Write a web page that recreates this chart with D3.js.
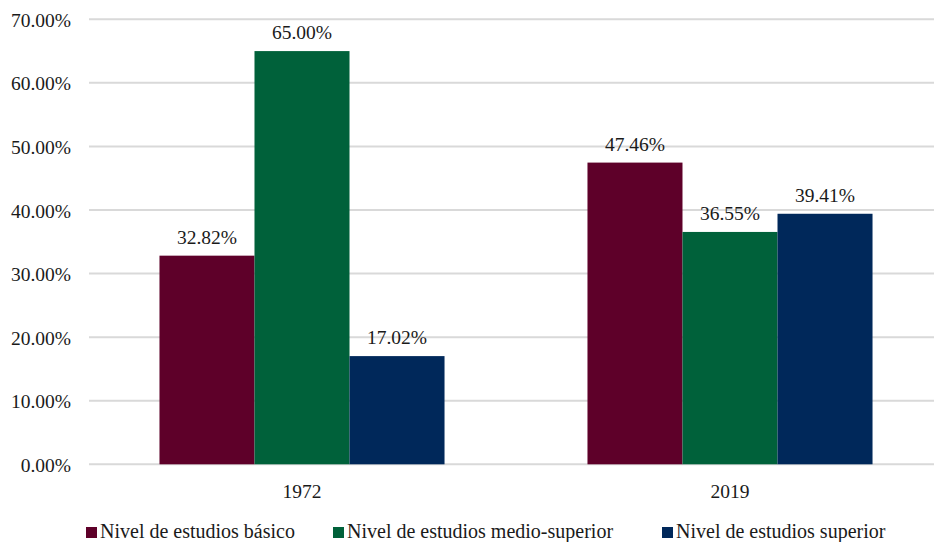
<!DOCTYPE html>
<html><head><meta charset="utf-8">
<script src="https://cdn.jsdelivr.net/npm/d3@7"></script>
<style>body{margin:0;background:#fff}svg{display:block}</style>
</head><body>
<svg id="c" width="934" height="542"></svg>
<script>
const categories = ["1972", "2019"];
const seriesNames = ["Nivel de estudios básico", "Nivel de estudios medio-superior", "Nivel de estudios superior"];
const basico = [32.82, 47.46];
const medioSuperior = [65.00, 36.55];
const superior = [17.02, 39.41];
const yTicks = [0, 10, 20, 30, 40, 50, 60, 70];
const colors = ["#5e0029", "#00613a", "#00285a"];

(function () {
const seriesValues = [basico, medioSuperior, superior];
const svg = d3.select("#c");
const FF = '"Liberation Serif"';
const mLeft = 88, mRight = 944, mTop = 19.3, mBottom = 464.3;

const y = d3.scaleLinear().domain([0, 70]).range([mBottom, mTop]);
const x0 = d3.scaleBand().domain(categories).range([mLeft, mRight]).paddingInner(0.334).paddingOuter(0.167);
const x1 = d3.scaleBand().domain(d3.range(seriesNames.length)).range([0, x0.bandwidth()]);

svg.append("g").selectAll("line").data(yTicks).join("line")
  .attr("x1", mLeft + 1).attr("x2", mRight)
  .attr("y1", d => y(d)).attr("y2", d => y(d))
  .attr("stroke", "#d9d9d9").attr("stroke-width", 2);

const yAxis = d3.axisLeft(y).tickValues(yTicks).tickSize(0).tickPadding(0)
  .tickFormat(d => d.toFixed(2) + "%");
const ya = svg.append("g").attr("transform", `translate(71,0)`).call(yAxis);
ya.select(".domain").remove();
ya.selectAll("text").style("font-family", FF).style("font-size", "19.5px").attr("fill", "#1a1a1a").attr("dy", "0.36em");

const groups = svg.append("g").selectAll("g").data(categories).join("g")
  .attr("transform", d => `translate(${x0(d)},0)`);
groups.each(function(cat, ci) {
  const g = d3.select(this);
  seriesValues.forEach((vals, si) => {
    g.append("rect")
      .attr("x", x1(si)).attr("width", x1.bandwidth())
      .attr("y", y(vals[ci])).attr("height", y(0) - y(vals[ci]))
      .attr("fill", colors[si]);
    g.append("text")
      .attr("x", x1(si) + x1.bandwidth() / 2)
      .attr("y", y(vals[ci]) - 12)
      .attr("text-anchor", "middle")
      .style("font-family", FF).style("font-size", "19.5px").attr("fill", "#1a1a1a")
      .text(vals[ci].toFixed(2) + "%");
  });
});

const xAxis = d3.axisBottom(x0).tickSize(0).tickPadding(0);
const xa = svg.append("g").attr("transform", `translate(0,${mBottom})`).call(xAxis);
xa.select(".domain").remove();
xa.selectAll("text").style("font-family", FF).style("font-size", "19.5px").attr("fill", "#1a1a1a")
  .attr("dy", null).attr("y", 34);

const legendX = [86, 333, 662];
const lg = svg.append("g").selectAll("g").data(seriesNames).join("g")
  .attr("transform", (d, i) => `translate(${legendX[i]},0)`);
lg.append("rect").attr("x", 0).attr("y", 527).attr("width", 11).attr("height", 11)
  .attr("fill", (d, i) => colors[i]);
lg.append("text").attr("x", 14).attr("y", 538)
  .style("font-family", FF).style("font-size", "20px").attr("fill", "#1a1a1a")
  .text(d => d);
})();
</script>
</body></html>
